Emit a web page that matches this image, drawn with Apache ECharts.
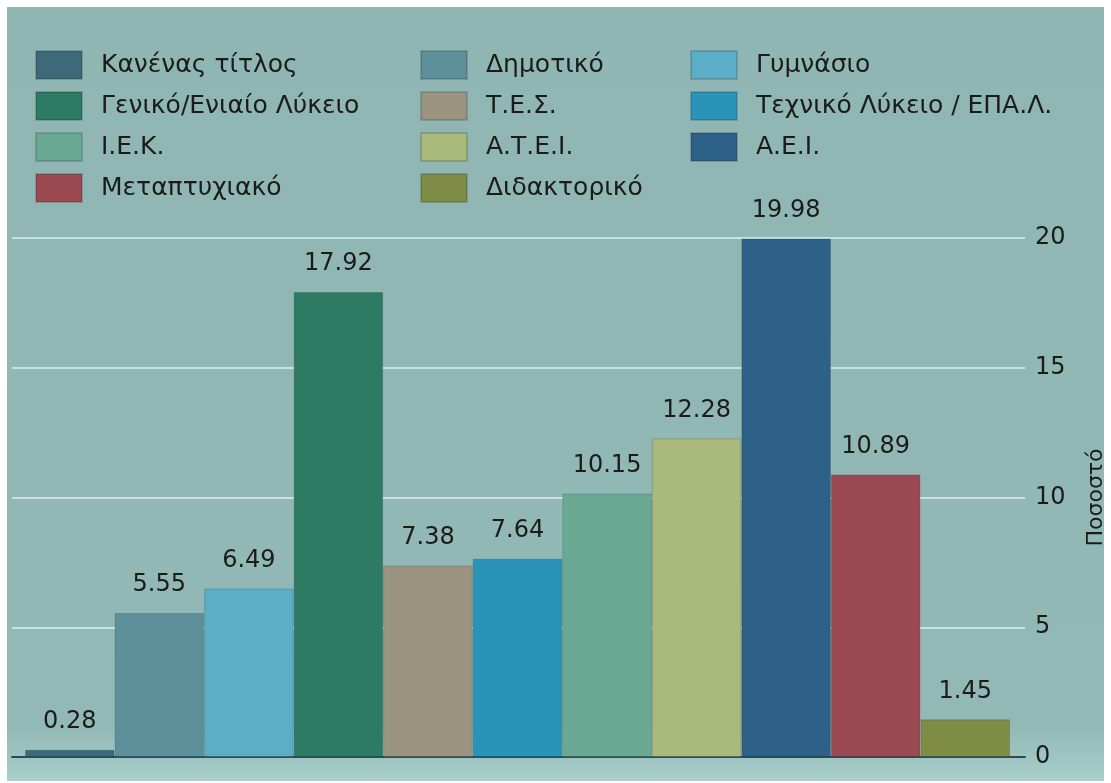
<!DOCTYPE html>
<html>
<head>
<meta charset="utf-8">
<script src="https://cdn.jsdelivr.net/npm/echarts@6/dist/echarts.min.js"></script>
<style>
  html, body { margin: 0; padding: 0; background: #fff; }
  #main { width: 1111px; height: 783px; }
</style>
</head>
<body>
<div id="main"></div>
<script>
// επίπεδα εκπαίδευσης (με τη σειρά των στηλών)
const levels = [
  'Κανένας τίτλος', 'Δημοτικό', 'Γυμνάσιο', 'Γενικό/Ενιαίο Λύκειο',
  'Τ.Ε.Σ.', 'Τεχνικό Λύκειο / ΕΠΑ.Λ.', 'Ι.Ε.Κ.', 'Α.Τ.Ε.Ι.',
  'Α.Ε.Ι.', 'Μεταπτυχιακό', 'Διδακτορικό'
];
// ποσοστά
const percents = [0.28, 5.55, 6.49, 17.92, 7.38, 7.64, 10.15, 12.28, 19.98, 10.89, 1.45];
const barColors = [
  '#3d6a79', '#5e909c', '#5aaec8', '#2e7b63',
  '#9a9480', '#2a93b8', '#6aaa94', '#aab97c',
  '#2d6187', '#9b4a52', '#7e8c45'
];
const yTicks = [0, 5, 10, 15, 20];

// υπόμνημα σε 3 στήλες
const legendCols = [
  [levels[0], levels[3], levels[6], levels[9]],
  [levels[1], levels[4], levels[7], levels[10]],
  [levels[2], levels[5], levels[8]]
];
const legendLeft = [35, 420, 690];

const chart = echarts.init(document.getElementById('main'));

const font = 'DejaVu Sans';

const series = levels.map((name, i) => ({
  name: name,
  type: 'bar',
  xAxisIndex: 1,
  yAxisIndex: 1,
  stack: 'all',
  barCategoryGap: '0%',
  data: percents.map((v, j) => (j === i ? v : '-')),
  itemStyle: { color: barColors[i], borderColor: 'rgba(0,0,0,0.15)', borderWidth: 1 },
  label: {
    show: true,
    position: 'top',
    distance: 16,
    fontFamily: font,
    fontSize: 24,
    color: '#1b1b1b'
  }
}));

const option = {
  backgroundColor: '#ffffff',
  animation: false,
  graphic: [{
    type: 'rect',
    z: -10,
    shape: { x: 7, y: 7, width: 1097, height: 774 },
    style: {
      fill: new echarts.graphic.LinearGradient(0, 0, 0, 1, [
        { offset: 0, color: '#90b6b4' },
        { offset: 0.93, color: '#93b9b7' },
        { offset: 1, color: '#a8cfcc' }
      ])
    }
  }],
  legend: legendCols.map((col, k) => ({
    data: col,
    orient: 'vertical',
    left: legendLeft[k],
    top: 50,
    padding: 0,
    icon: 'rect',
    itemWidth: 46,
    itemHeight: 28,
    itemGap: 11,
    selectedMode: false,
    textStyle: {
      fontFamily: font, fontSize: 25, lineHeight: 28, color: '#1b1b1b',
      padding: [0, 0, 0, 14]
    }
  })),
  grid: [
    { left: 12, right: 86, top: 238, bottom: 26, outerBoundsMode: 'none' },
    { left: 25, right: 101, top: 238, bottom: 26, outerBoundsMode: 'none' }
  ],
  xAxis: [
    {
      gridIndex: 0, type: 'value', min: 0, max: 1,
      axisLine: { show: true, lineStyle: { color: '#2b4c56', width: 2 } },
      axisTick: { show: false }, axisLabel: { show: false }, splitLine: { show: false }
    },
    {
      gridIndex: 1, type: 'category', data: levels, show: false
    }
  ],
  yAxis: [
    {
      gridIndex: 0, type: 'value', position: 'right',
      min: yTicks[0], max: yTicks[yTicks.length - 1], interval: 5,
      name: 'Ποσοστό', nameLocation: 'middle', nameRotate: 90, nameGap: 60,
      nameTextStyle: { fontFamily: font, fontSize: 22, color: '#1b1b1b' },
      axisLine: { show: false }, axisTick: { show: false },
      axisLabel: { margin: 10, fontFamily: font, fontSize: 24, color: '#1b1b1b' },
      splitLine: { lineStyle: { color: 'rgba(222,238,236,0.75)', width: 2 } }
    },
    {
      gridIndex: 1, type: 'value', min: 0, max: 20, show: false, splitLine: { show: false }
    }
  ],
  series: series
};

option && chart.setOption(option);
</script>
</body>
</html>
